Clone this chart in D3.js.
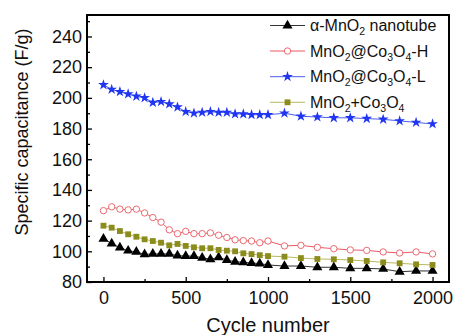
<!DOCTYPE html>
<html>
<head>
<meta charset="utf-8">
<script src="https://cdn.jsdelivr.net/npm/d3@7"></script>
<style>
  body { margin: 0; background: #fff; }
  svg { font-family: Arial, "Liberation Sans", sans-serif; }
</style>
</head>
<body>
<div id="chart"></div>
<script>
// Cycle numbers where capacitance was sampled
const cycles = [0, 50, 100, 150, 200, 250, 300, 350, 400, 450, 500, 550, 600, 650, 700, 750,
  800, 850, 900, 950, 1000, 1100, 1200, 1300, 1400, 1500, 1600, 1700, 1800, 1900, 2000];

const nanotube = [108.2, 105, 102.4, 100.4, 99.6, 98, 98.3, 98.3, 98.3, 97.2, 96.9, 96.9, 95.8, 94.8, 96.1, 94.3,
  93.2, 92.8, 92.4, 92, 91.1, 90.4, 90.4, 89.6, 89.6, 88.9, 88.9, 88.5, 86.7, 87.2, 87.2];
const coH = [126.5, 129, 127.5, 127, 127.5, 125, 122, 119, 114, 111.5, 113, 111.5, 111.5, 112, 110.5, 109,
  107.5, 107, 106.7, 105.6, 106.7, 103.5, 103.9, 102.6, 101.7, 100.9, 100.6, 99.6, 98.9, 99.6, 98.3];
const coL = [208.5, 205.5, 204, 202.5, 201, 200, 197, 197.5, 196, 194, 191, 190, 190.5, 191, 190.5, 190.5,
  189.5, 189.5, 189, 189, 189, 190, 188, 187.5, 187, 187, 186.5, 186, 185, 184, 183];
const mix = [116.7, 115.4, 113.2, 111.1, 109.5, 107.8, 106.7, 105.6, 103.9, 104.8, 103.5, 102.6, 102, 102, 100.9, 100.4,
  100, 98.7, 98.2, 97.5, 96.9, 96.5, 95.6, 95, 94.8, 94.3, 93.7, 92.8, 92.2, 91.5, 91.1];

const xMajor = [0, 500, 1000, 1500, 2000];
const xMinor = [250, 750, 1250, 1750];
const yMajor = [80, 100, 120, 140, 160, 180, 200, 220, 240];
const yMinor = [90, 110, 130, 150, 170, 190, 210, 230, 250];

// legend labels: [text, isSubscript]
const series = [
  { values: nanotube, color: "#000", line: "#333", shape: "triangle",
    label: [["α-MnO", 0], ["2", 1], [" nanotube", 0]] },
  { values: coH, color: "#ec6a70", line: "#e85a66", shape: "circle",
    label: [["MnO", 0], ["2", 1], ["@Co", 0], ["3", 1], ["O", 0], ["4", 1], ["-H", 0]] },
  { values: coL, color: "#1f35f2", line: "#4a5ef0", shape: "star",
    label: [["MnO", 0], ["2", 1], ["@Co", 0], ["3", 1], ["O", 0], ["4", 1], ["-L", 0]] },
  { values: mix, color: "#8c8c1c", line: "#b8b860", shape: "square",
    label: [["MnO", 0], ["2", 1], ["+Co", 0], ["3", 1], ["O", 0], ["4", 1]] },
];

const W = 456, H = 335;
const plot = { left: 87, right: 449, top: 15, bottom: 282 };

const svg = d3.select("#chart").append("svg").attr("width", W).attr("height", H);

const x = d3.scaleLinear().domain([-100, 2100]).range([plot.left, plot.right]);
const y = d3.scaleLinear().domain([80, 254]).range([plot.bottom, plot.top]);

// axes, ticks pointing into the plot
svg.append("g").attr("transform", `translate(0,${plot.bottom})`)
  .call(d3.axisBottom(x).tickValues(xMajor).tickSize(-5).tickPadding(9).tickFormat(d3.format("d")));
svg.append("g").attr("transform", `translate(0,${plot.bottom})`)
  .call(d3.axisBottom(x).tickValues(xMinor).tickSize(-3).tickFormat(""));
svg.append("g").attr("transform", `translate(${plot.left},0)`)
  .call(d3.axisLeft(y).tickValues(yMajor).tickSize(-5).tickPadding(5));
svg.append("g").attr("transform", `translate(${plot.left},0)`)
  .call(d3.axisLeft(y).tickValues(yMinor).tickSize(-3).tickFormat(""));

svg.selectAll(".domain").remove();
svg.selectAll(".tick line").attr("stroke", "#000").attr("stroke-width", 1.3);
svg.selectAll(".tick text").attr("font-size", 18).attr("fill", "#111")
  .attr("font-family", "Arial, 'Liberation Sans', sans-serif");

svg.append("rect")
  .attr("x", plot.left).attr("y", plot.top)
  .attr("width", plot.right - plot.left).attr("height", plot.bottom - plot.top)
  .attr("fill", "none").attr("stroke", "#000").attr("stroke-width", 2);

// axis titles
svg.append("text").attr("x", (plot.left + plot.right) / 2).attr("y", 332)
  .attr("text-anchor", "middle").attr("font-size", 20).attr("fill", "#111").text("Cycle number");
svg.append("text").attr("transform", "translate(28,132) rotate(-90)")
  .attr("text-anchor", "middle").attr("font-size", 18).attr("fill", "#111")
  .text("Specific capacitance (F/g)");

function drawMarker(g, s) {
  if (s.shape === "circle") {
    g.append("circle").attr("r", 3.2).attr("fill", "#fff")
      .attr("stroke", s.color).attr("stroke-width", 1);
  } else {
    const type = { triangle: d3.symbolTriangle, star: d3.symbolStar, square: d3.symbolSquare }[s.shape];
    const size = { triangle: 44, star: 36, square: 34 }[s.shape];
    g.append("path").attr("d", d3.symbol().type(type).size(size)).attr("fill", s.color);
  }
}

const line = d3.line().x((d, i) => x(cycles[i])).y(d => y(d));

series.forEach(s => {
  svg.append("path").attr("d", line(s.values))
    .attr("fill", "none").attr("stroke", s.line).attr("stroke-width", 1);
  s.values.forEach((v, i) => {
    const g = svg.append("g").attr("transform", `translate(${x(cycles[i])},${y(v)})`);
    drawMarker(g, s);
  });
});

// legend
const legendY = [25.5, 51, 76.7, 102.3];
series.forEach((s, i) => {
  const ly = legendY[i];
  svg.append("line").attr("x1", 270).attr("x2", 305).attr("y1", ly).attr("y2", ly)
    .attr("stroke", s.line).attr("stroke-width", 1);
  const g = svg.append("g").attr("transform", `translate(287.5,${ly})`);
  drawMarker(g, s);
  const t = svg.append("text").attr("x", 310).attr("y", ly + 5.5)
    .attr("font-size", 16).attr("fill", "#111");
  let prev = 0;
  s.label.forEach(([str, sub]) => {
    const ts = t.append("tspan").text(str);
    if (sub) ts.attr("font-size", 10.5);
    ts.attr("dy", sub && !prev ? 4 : (!sub && prev ? -4 : 0));
    prev = sub;
  });
});
</script>
</body>
</html>
